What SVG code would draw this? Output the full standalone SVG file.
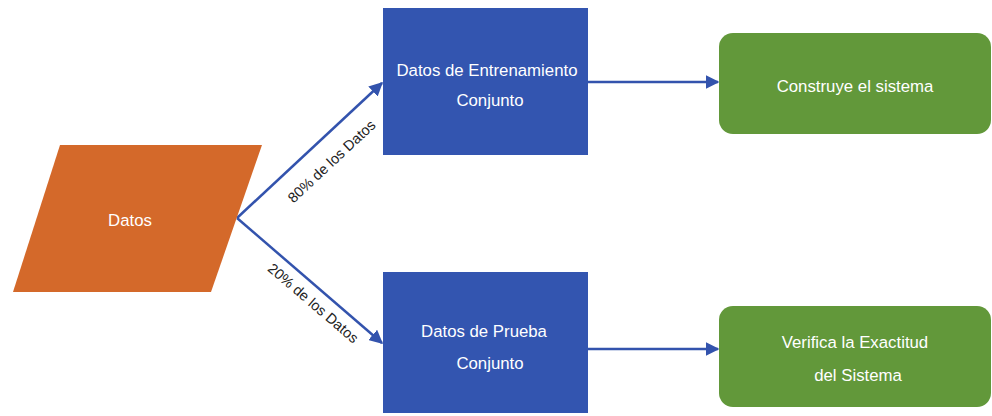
<svg xmlns="http://www.w3.org/2000/svg" width="992" height="416" viewBox="0 0 992 416">
<style>
.t{font-family:"Liberation Sans",Arial,sans-serif;font-size:16.8px;fill:#ffffff;text-anchor:middle}
.lbl{font-family:"Liberation Sans",Arial,sans-serif;font-size:14.5px;fill:#222222;text-anchor:middle}
.edge{stroke:#3353ad;stroke-width:2.5;fill:none}
.blue{fill:#3355b0}
.green{fill:#62983a}
</style>
<defs>
<marker id="ah" viewBox="0 0 10 10" refX="9" refY="5" markerWidth="5.5" markerHeight="5.5" markerUnits="strokeWidth" orient="auto">
<path d="M0,0 L10,5 L0,10 Z" fill="#3353ad"/>
</marker>
</defs>
<g id="connectors">
<line class="edge" x1="237" y1="218" x2="382" y2="83" marker-end="url(#ah)"/>
<line class="edge" x1="237" y1="218" x2="382" y2="343" marker-end="url(#ah)"/>
<line class="edge" x1="588" y1="82" x2="718" y2="82" marker-end="url(#ah)"/>
<line class="edge" x1="588" y1="349" x2="718" y2="349" marker-end="url(#ah)"/>
<text class="lbl" transform="translate(335,165) rotate(-43)">80% de los Datos</text>
<text class="lbl" transform="translate(310,307) rotate(40.5)">20% de los Datos</text>
</g>
<g id="datos">
<polygon points="60,145 262,145 211,292 13,292" fill="#d4692a"/>
<text class="t" x="130" y="226">Datos</text>
</g>
<g id="entrenamiento">
<rect class="blue" x="383" y="8" width="205" height="147"/>
<text class="t" x="487" y="76">Datos de Entrenamiento</text>
<text class="t" x="490" y="106">Conjunto</text>
</g>
<g id="prueba">
<rect class="blue" x="383" y="272" width="205" height="141"/>
<text class="t" x="484" y="337">Datos de Prueba</text>
<text class="t" x="490" y="369">Conjunto</text>
</g>
<g id="construye">
<rect class="green" x="719" y="33" width="272" height="101" rx="14" ry="14"/>
<text class="t" x="855" y="92">Construye el sistema</text>
</g>
<g id="verifica">
<rect class="green" x="719" y="306" width="272" height="101" rx="14" ry="14"/>
<text class="t" x="855" y="348">Verifica la Exactitud</text>
<text class="t" x="858" y="381">del Sistema</text>
</g>
</svg>
